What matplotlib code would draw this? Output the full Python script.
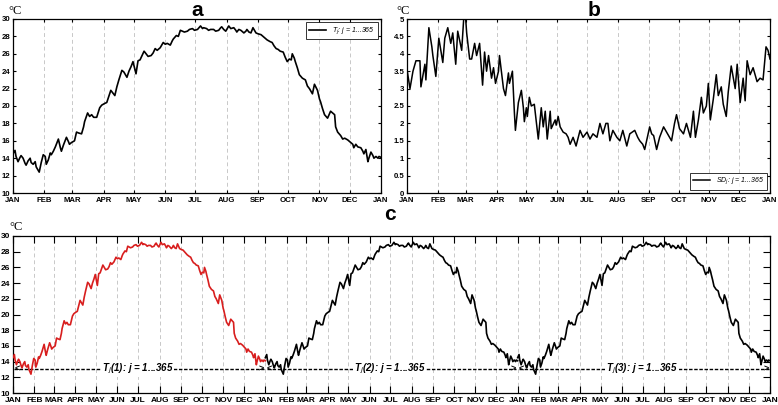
import numpy as np
import matplotlib
matplotlib.use("Agg")
import matplotlib.pyplot as plt

# ---------------- data ----------------
month_labels = ["JAN", "FEB", "MAR", "APR", "MAY", "JUN", "JUL", "AUG", "SEP", "OCT", "NOV", "DEC", "JAN"]
month_starts = [0, 31, 59, 90, 120, 151, 181, 212, 243, 273, 304, 334, 365]

# daily mean temperature T_j
temp_days = [0, 2, 3, 5, 7, 8, 10, 12, 13, 15,
             17, 18, 20, 22, 23, 26, 28, 30, 32, 33,
             35, 37, 38, 40, 42, 45, 47, 48, 50, 53,
             55, 56, 58, 61, 63, 65, 68, 70, 71, 74,
             76, 78, 80, 83, 86, 88, 91, 93, 95, 97,
             99, 101, 103, 105, 108, 110, 111, 113, 115, 117,
             119, 122, 124, 126, 128, 130, 132, 134, 137, 139,
             141, 143, 146, 149, 151, 153, 156, 158, 159, 162,
             164, 166, 168, 170, 173, 175, 178, 180, 183, 186,
             188, 189, 192, 194, 196, 199, 201, 204, 206, 207,
             209, 211, 214, 216, 219, 221, 222, 224, 226, 229,
             231, 232, 234, 236, 238, 241, 243, 246, 249, 252,
             255, 257, 259, 261, 263, 265, 268, 270, 272, 274,
             276, 277, 279, 280, 282, 284, 287, 290, 292, 294,
             297, 299, 302, 304, 305, 307, 309, 312, 315, 317,
             319, 320, 322, 325, 327, 329, 332, 335, 337, 338,
             340, 342, 345, 347, 348, 350, 352, 353, 355, 357,
             358, 360, 362, 363, 365]
temp_vals = [14.5, 14.9, 14.2, 13.6, 14.1, 14.3, 14.0, 13.4, 13.2, 13.7,
             14.0, 13.5, 13.3, 13.6, 13.0, 12.4, 13.5, 14.4, 14.2, 13.3,
             13.8, 14.6, 14.4, 14.8, 15.3, 16.2, 15.2, 14.8, 15.5, 16.4,
             15.9, 15.6, 15.8, 16.0, 17.0, 16.9, 16.8, 17.6, 18.2, 19.2,
             18.8, 19.0, 18.7, 18.7, 19.8, 20.1, 20.3, 20.4, 21.1, 21.8,
             21.5, 21.2, 22.2, 23.0, 24.1, 23.9, 23.7, 23.3, 24.0, 24.5,
             25.1, 23.7, 25.2, 25.3, 25.8, 26.3, 26.0, 25.7, 25.8, 26.1,
             26.6, 26.4, 26.7, 27.3, 27.1, 27.2, 27.0, 27.5, 27.7, 28.1,
             28.0, 28.7, 28.6, 28.5, 28.6, 28.8, 28.9, 28.7, 28.8, 29.2,
             28.9, 29.0, 28.9, 28.7, 28.8, 28.8, 28.6, 28.7, 29.0, 29.1,
             28.8, 28.6, 29.2, 28.9, 29.0, 28.7, 28.5, 28.8, 28.7, 28.4,
             28.6, 28.8, 28.5, 28.4, 29.0, 28.4, 28.3, 28.2, 27.9, 27.6,
             27.4, 27.3, 26.9, 26.6, 26.5, 26.3, 26.2, 25.6, 25.1, 25.4,
             25.3, 26.0, 25.5, 25.1, 24.4, 23.6, 23.2, 23.0, 22.3, 22.0,
             21.4, 22.5, 21.8, 20.8, 20.5, 19.7, 19.0, 18.6, 19.4, 19.2,
             19.0, 17.6, 17.0, 16.6, 16.2, 16.3, 16.1, 15.8, 15.6, 15.2,
             15.6, 15.3, 15.2, 14.8, 14.5, 15.0, 13.6, 14.0, 14.7, 14.3,
             14.0, 14.2, 14.0, 14.2, 14.1]

# daily standard deviation SD_j
sd_days = [0, 3, 6, 9, 13, 14, 18, 19, 22, 25,
           26, 29, 32, 36, 38, 41, 44, 46, 49, 51,
           55, 57, 59, 60, 63, 65, 68, 70, 73, 76,
           78, 80, 82, 85, 87, 89, 92, 93, 97, 99,
           102, 103, 106, 107, 108, 109, 112, 115, 117, 118,
           120, 121, 123, 125, 128, 132, 135, 137, 139, 141,
           144, 145, 149, 150, 152, 154, 157, 160, 162, 164,
           167, 170, 174, 177, 181, 184, 187, 191, 194, 197,
           200, 202, 204, 207, 211, 214, 217, 221, 224, 229,
           232, 234, 237, 239, 244, 246, 248, 251, 254, 258,
           261, 266, 269, 271, 274, 278, 281, 285, 288, 290,
           293, 296, 298, 301, 303, 305, 308, 311, 313, 316,
           318, 321, 323, 326, 330, 332, 335, 338, 340, 342,
           345, 348, 352, 355, 358, 361, 363, 365]
sd_vals = [3.55, 3.0, 3.5, 3.8, 3.8, 3.05, 3.7, 3.25, 4.75, 4.2,
           3.95, 3.35, 4.45, 3.75, 4.45, 4.75, 4.3, 4.6, 3.7, 4.65,
           4.1, 5.0, 5.0, 4.6, 3.85, 3.85, 4.3, 3.95, 4.3, 3.1,
           4.05, 3.5, 3.95, 3.3, 3.6, 3.15, 3.5, 3.95, 3.0, 2.8,
           3.45, 3.15, 3.5, 2.9, 2.3, 1.8, 2.6, 2.95, 2.45, 2.05,
           2.45, 2.2, 2.75, 2.5, 2.55, 1.55, 2.45, 1.9, 2.35, 1.55,
           2.35, 1.85, 2.1, 1.95, 2.2, 1.9, 1.75, 1.7, 1.6, 1.4,
           1.6, 1.35, 1.8, 1.6, 1.75, 1.55, 1.7, 1.6, 2.0, 1.7,
           2.0, 2.0, 1.5, 1.8, 1.6, 1.5, 1.8, 1.35, 1.7, 1.8,
           1.6, 1.5, 1.4, 1.25, 1.9, 1.7, 1.65, 1.25, 1.6, 1.9,
           1.75, 1.5, 2.0, 2.25, 1.85, 1.7, 2.0, 1.6, 2.35, 1.6,
           2.1, 2.75, 2.3, 2.5, 3.15, 2.1, 2.7, 3.4, 2.8, 3.05,
           2.55, 2.2, 2.9, 3.65, 3.0, 3.7, 2.6, 3.3, 2.65, 3.8,
           3.4, 3.6, 3.2, 3.3, 3.25, 4.2, 4.1, 3.85]

n_years = 3
series_labels = ["T$_j$(1): j = 1...365", "T$_j$(2): j = 1...365", "T$_j$(3): j = 1...365"]

# ---------------- style ----------------
plt.rcParams['font.family'] = ['Liberation Sans', 'DejaVu Sans']
W, H = 778, 405
fig = plt.figure(figsize=(W / 100, H / 100), dpi=100)

def fx(px):
    return px / W

def fy(py):
    return 1 - py / H

grid_kw = dict(color='#c8c8c8', lw=0.7, ls=(0, (4, 3)))

def style_axes(ax, ticks, labels, lsize, tlen):
    ax.set_xticks(ticks)
    ax.set_xticklabels(labels, fontsize=lsize, fontweight='bold')
    for t in ticks[1:-1]:
        ax.axvline(t, zorder=0, **grid_kw)
    ax.tick_params(direction='in', top=True, right=True, length=tlen, width=0.8,
                   labelsize=lsize)
    ax.tick_params(axis='x', pad=3)
    ax.tick_params(axis='y', pad=2)
    for lab in ax.get_yticklabels():
        lab.set_fontweight('bold')
    for s in ax.spines.values():
        s.set_linewidth(0.9)

# ---------------- panel a ----------------
axa = fig.add_axes([fx(13), fy(193), fx(381 - 13), fy(19) - fy(193)])
axa.plot(temp_days, temp_vals, color='black', lw=1.2, label='T$_j$: j = 1...365')
axa.set_xlim(0, 365)
axa.set_ylim(10, 30)
axa.set_yticks(np.arange(10, 31, 2))
style_axes(axa, month_starts, month_labels, 5.6, 2.5)
leg = axa.legend(loc='upper right', frameon=True, fancybox=False,
                 edgecolor='black', handlelength=2.5, borderpad=0.4,
                 prop={'style': 'italic', 'size': 5})
leg.get_frame().set_linewidth(0.7)
fig.text(fx(197), fy(10), 'a', ha='center', va='center', fontsize=15, fontweight='bold')
fig.text(fx(8), fy(11), '°C', ha='left', va='center', fontsize=9, family='Liberation Serif')

# ---------------- panel b ----------------
axb = fig.add_axes([fx(407), fy(193), fx(770 - 407), fy(19) - fy(193)])
axb.plot(sd_days, sd_vals, color='black', lw=1.1, label='SD$_j$: j = 1...365')
axb.set_xlim(0, 365)
axb.set_ylim(0, 5)
axb.set_yticks(np.arange(0, 5.01, 0.5))
axb.set_yticklabels(['0', '0.5', '1', '1.5', '2', '2.5', '3', '3.5', '4', '4.5', '5'])
style_axes(axb, month_starts, month_labels, 5.6, 2.5)
leg = axb.legend(loc='lower right', frameon=True, fancybox=False,
                 edgecolor='black', handlelength=2.5, borderpad=0.4,
                 prop={'style': 'italic', 'size': 5})
leg.get_frame().set_linewidth(0.7)
fig.text(fx(594), fy(10), 'b', ha='center', va='center', fontsize=15, fontweight='bold')
fig.text(fx(396), fy(11), '°C', ha='left', va='center', fontsize=9, family='Liberation Serif')

# ---------------- panel c ----------------
axc = fig.add_axes([fx(13), fy(393), fx(770 - 13), fy(236) - fy(393)])
c_ticks = []
c_labels = []
for y in range(n_years):
    c_ticks += [m + 365 * y for m in month_starts[:-1]]
    c_labels += month_labels[:-1]
c_ticks.append(365 * n_years)
c_labels.append("JAN")

for y in range(n_years):
    xs = np.array(temp_days) + 365 * y
    col = '#d81e1e' if y == 0 else 'black'
    axc.plot(xs, temp_vals, color=col, lw=1.2, zorder=3 if y == 0 else 2)
    x0, x1 = 365 * y + 2, 365 * (y + 1) - 2
    axc.plot([x0, x1], [13.1, 13.1], color='black', lw=1.0, ls=(0, (2.5, 1.2)), zorder=1)
    axc.text(x0, 13.1, '<', ha='left', va='center', fontsize=6.5, fontweight='bold')
    axc.text(x1, 13.1, '>', ha='right', va='center', fontsize=6.5, fontweight='bold')
    axc.text(365 * y + 180, 13.1, series_labels[y], ha='center', va='center',
             fontsize=7, fontweight='bold', style='italic',
             bbox=dict(facecolor='white', edgecolor='none', pad=0.5), zorder=1.5)

axc.set_xlim(0, 365 * n_years)
axc.set_ylim(10, 30)
axc.set_yticks(np.arange(10, 31, 2))
style_axes(axc, c_ticks, c_labels, 6, 5)
fig.text(fx(390), fy(215), 'c', ha='center', va='center', fontsize=15, fontweight='bold')
fig.text(fx(9), fy(227), '°C', ha='left', va='center', fontsize=9, family='Liberation Serif')

fig.savefig('out.png', dpi=100)
